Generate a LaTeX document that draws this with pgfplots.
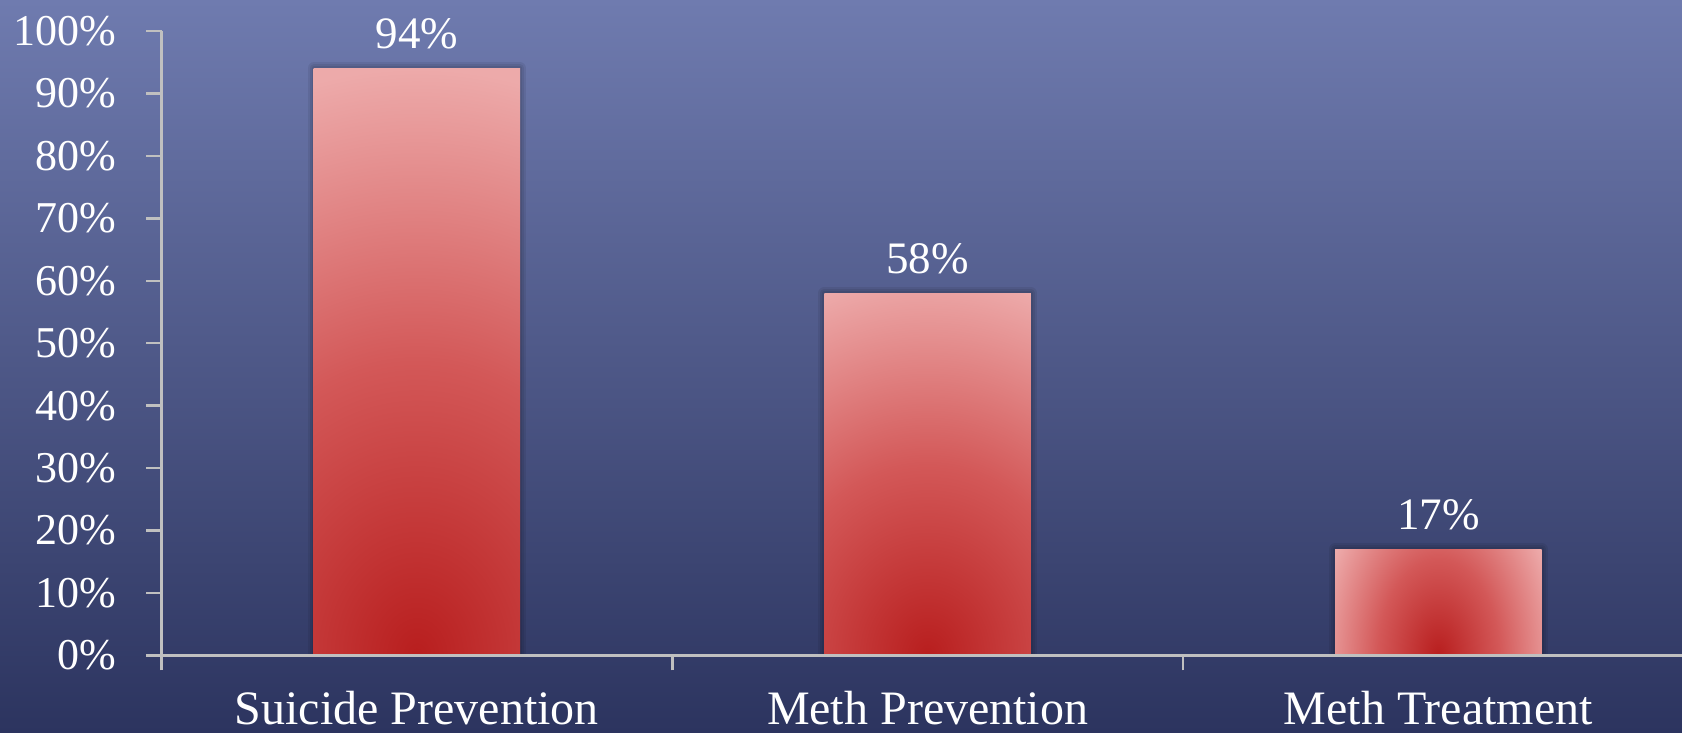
\documentclass[border=0pt]{standalone}
\usepackage{pgfplots}
\pgfplotsset{compat=1.18}
\usepackage{fontspec}
\setmainfont{Liberation Serif}

\definecolor{bgtop}{RGB}{111,123,175}
\definecolor{bgbottom}{RGB}{44,52,95}
\definecolor{axisgray}{RGB}{192,192,192}

% Glow that rises from the bottom centre of a bar: dark red in the middle,
% pink towards the outline. #2 = horizontal spread, #3 = vertical spread.
\newcommand\declarebarglow[3]{%
  \pgfdeclarefunctionalshading{#1}{\pgfpointorigin}{\pgfpoint{100bp}{100bp}}{}{%
    25 sub 50 div #3 mul dup mul
    exch 50 sub 25 div #2 mul dup mul
    add sqrt
    dup 1 gt {pop 1} if
    dup 0.5 lt
    {2 mul dup dup 0.1059 mul 0.7216 add 3 1 roll 0.2275 mul 0.1176 add exch 0.2275 mul 0.1176 add}
    {0.5 sub 2 mul dup dup 0.1019 mul 0.8275 add 3 1 roll 0.3216 mul 0.3451 add exch 0.3216 mul 0.3451 add}
    ifelse
  }%
}
\declarebarglow{glowA}{0.22}{1}
\declarebarglow{glowB}{0.32}{0.95}
\declarebarglow{glowC}{0.85}{0.55}

\newcommand\yfont{\fontsize{44bp}{50bp}\selectfont}
\newcommand\xfont{\fontsize{48bp}{54bp}\selectfont}
\newcommand\vfont{\fontsize{45bp}{52bp}\selectfont}

\pgfplotsset{
  barbase/.style={ybar, bar width=0.404, bar shift=0pt},
  barshadow/.style={barbase, fill=none, draw=black, line join=round,
    draw opacity=0.07, line width=#1, forget plot},
}

\begin{document}
\begin{tikzpicture}[x=1bp,y=1bp]
\useasboundingbox (0,0) rectangle (1682,733);
\shade[top color=bgtop, bottom color=bgbottom] (0,0) rectangle (1682,733);
\begin{axis}[
  at={(161.5bp,77.5bp)}, anchor=south west,
  scale only axis, width=1520.5bp, height=624.5bp,
  xmin=-0.5, xmax=2.477, ymin=0, ymax=100,
  axis x line=bottom, axis y line=left,
  axis line style={-, draw=axisgray, line width=2.5bp},
  axis on top,
  tick align=outside, major tick length=15bp,
  tick style={draw=axisgray, line width=2.5bp},
  ytick={0,10,...,100},
  yticklabels={0\%,10\%,20\%,30\%,40\%,50\%,60\%,70\%,80\%,90\%,100\%},
  yticklabel style={font=\yfont, text=white, anchor=east, inner sep=0pt, xshift=-30bp},
  xtick={-0.5,0.5,1.5},
  xticklabels={},
  extra x ticks={0,1,2},
  extra x tick labels={Suicide Prevention,Meth Prevention,Meth Treatment},
  extra x tick style={major tick length=0pt,
    xticklabel style={font=\xfont, text=white, anchor=base, inner sep=0pt, yshift=-69.5bp}},
  /pgf/number format/assume math mode=true,
  nodes near coords={\pgfmathprintnumber{\pgfplotspointmeta}\%},
  every node near coord/.append style={font=\vfont, text=white, anchor=base,
    inner sep=0pt, yshift=20bp},
]
% soft shadow round the bars
\addplot[barshadow=12bp, nodes near coords={}] coordinates {(0,94) (1,58) (2,17)};
\addplot[barshadow=8bp, nodes near coords={}] coordinates {(0,94) (1,58) (2,17)};
\addplot[barshadow=4bp, nodes near coords={}] coordinates {(0,94) (1,58) (2,17)};
% the bars
\addplot[barbase, draw=none, shading=glowA] coordinates {(0,94)};
\addplot[barbase, draw=none, shading=glowB] coordinates {(1,58)};
\addplot[barbase, draw=none, shading=glowC] coordinates {(2,17)};
\end{axis}
\end{tikzpicture}
\end{document}
